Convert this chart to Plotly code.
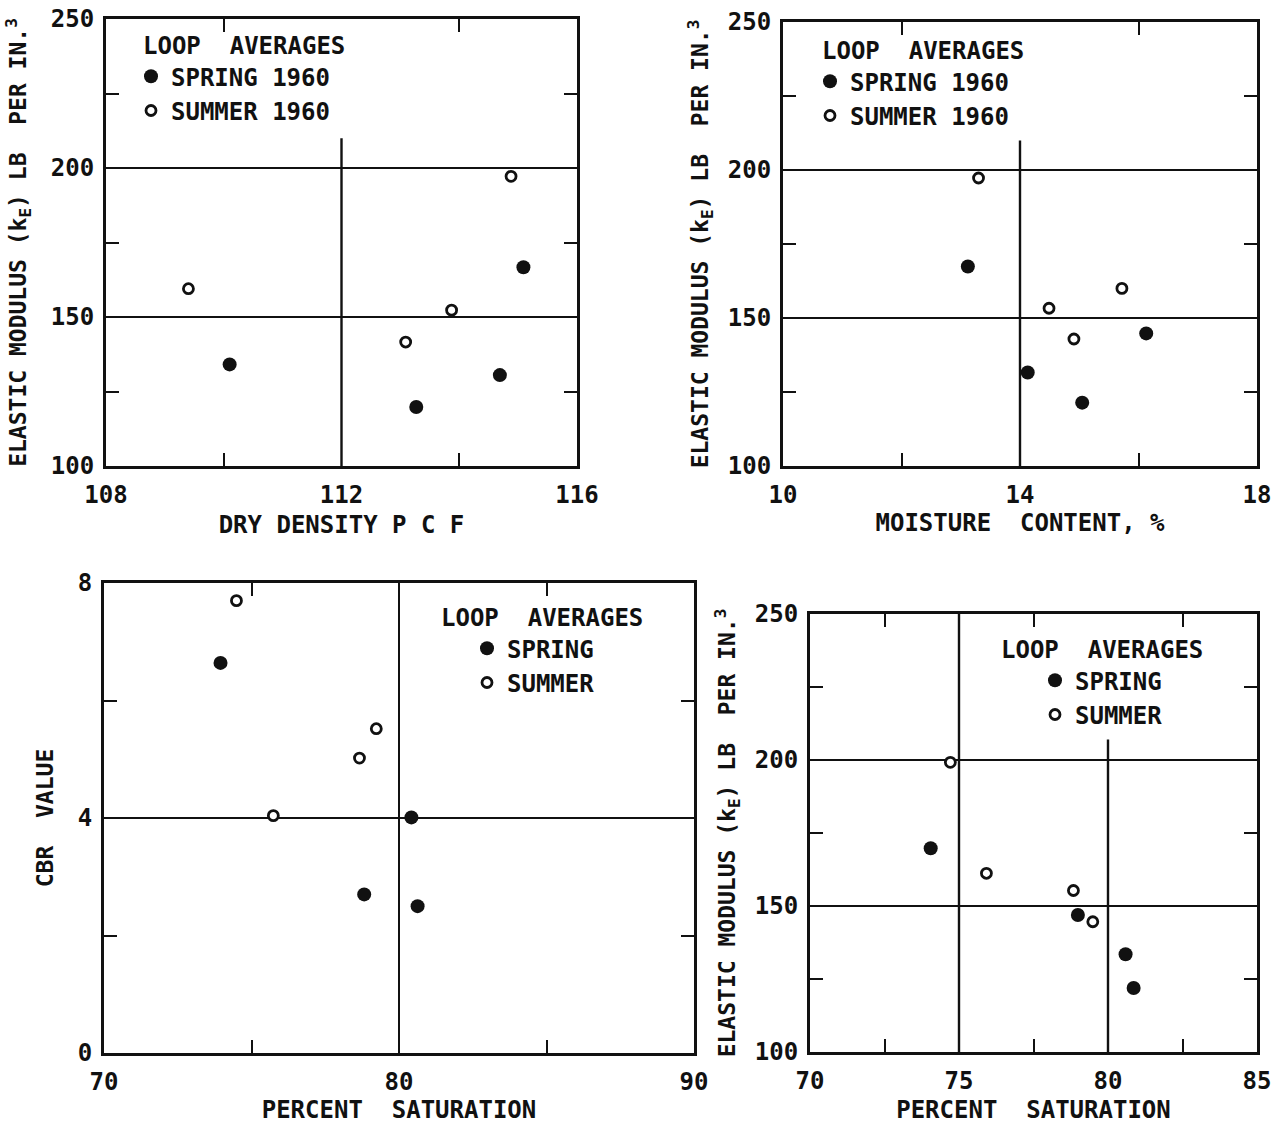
import plotly.graph_objects as go

FONT = "DejaVu Sans Mono"
INK = "#111111"
W, H = 1287, 1124

# ---------------- data ----------------
# Panel 1: elastic modulus vs dry density
dry_density_spring = [110.10, 113.27, 114.69, 115.09]
modulus_dd_spring = [134.1, 119.8, 130.5, 166.7]
dry_density_summer = [109.40, 113.09, 113.87, 114.88]
modulus_dd_summer = [159.5, 141.6, 152.3, 197.2]

# Panel 2: elastic modulus vs moisture content
moisture_spring = [13.12, 14.13, 15.05, 16.13]
modulus_mc_spring = [167.4, 131.6, 121.4, 144.8]
moisture_summer = [13.30, 14.49, 14.91, 15.72]
modulus_mc_summer = [197.3, 153.3, 142.9, 160.0]

# Panel 3: CBR vs percent saturation
saturation_cbr_spring = [73.95, 80.42, 78.82, 80.63]
cbr_spring = [6.64, 4.01, 2.70, 2.50]
saturation_cbr_summer = [74.49, 79.23, 78.66, 75.74]
cbr_summer = [7.70, 5.52, 5.02, 4.04]

# Panel 4: elastic modulus vs percent saturation
saturation_mod_spring = [74.05, 78.99, 80.59, 80.86]
modulus_sat_spring = [169.8, 146.9, 133.5, 121.9]
saturation_mod_summer = [74.71, 75.92, 78.84, 79.49]
modulus_sat_summer = [199.2, 161.2, 155.3, 144.6]

# tick labels
modulus_ticks = [100, 150, 200, 250]
modulus_minor = [125, 175, 225]
dd_ticks = [108, 112, 116]
dd_minor = [110, 114]
mc_ticks = [10, 14, 18]
mc_minor = [12, 16]
sat_cbr_ticks = [70, 80, 90]
sat_cbr_minor = [75, 85]
cbr_ticks = [0, 4, 8]
cbr_minor = [2, 6]
sat_mod_ticks = [70, 75, 80, 85]
sat_mod_minor = [72.5, 77.5, 82.5]

# reference dividers (value, start, end)
dd_divider = (112, 100, 210)
mc_divider = (14, 100, 210)
sat_divider_full = (75, 100, 250)
sat_divider_part = (80, 100, 207)

Y_TITLE = "ELASTIC MODULUS (k<sub>E</sub>) LB  PER IN.<sup>3</sup>"

# ---------------- figure ----------------
fig = go.Figure()

spring_marker = dict(symbol="circle", size=14, color=INK, line=dict(width=0))
summer_marker = dict(symbol="circle", size=10, color="white", line=dict(width=2.8, color=INK))


def add_pair(xs_sp, ys_sp, xs_su, ys_su, xa, ya, legend, sp_name, su_name, tag):
    fig.add_trace(go.Scatter(x=xs_sp, y=ys_sp, mode="markers", marker=spring_marker,
                             name=sp_name, xaxis=xa, yaxis=ya, legend=legend,
                             legendgroup=tag + "a", hoverinfo="skip"))
    fig.add_trace(go.Scatter(x=xs_su, y=ys_su, mode="markers", marker=summer_marker,
                             name=su_name, xaxis=xa, yaxis=ya, legend=legend,
                             legendgroup=tag + "b", hoverinfo="skip"))


add_pair(dry_density_spring, modulus_dd_spring, dry_density_summer, modulus_dd_summer,
         "x", "y", "legend", "SPRING 1960", "SUMMER 1960", "p1")
add_pair(moisture_spring, modulus_mc_spring, moisture_summer, modulus_mc_summer,
         "x2", "y2", "legend2", "SPRING 1960", "SUMMER 1960", "p2")
add_pair(saturation_cbr_spring, cbr_spring, saturation_cbr_summer, cbr_summer,
         "x3", "y3", "legend3", "SPRING", "SUMMER", "p3")
add_pair(saturation_mod_spring, modulus_sat_spring, saturation_mod_summer, modulus_sat_summer,
         "x4", "y4", "legend4", "SPRING", "SUMMER", "p4")


def fx(a, b):
    return [a / W, b / W]


def fy(top, bottom):
    return [1 - bottom / H, 1 - top / H]


def axis(domain, rng, tickvals, minor_vals, anchor, title, standoff, grid, is_x):
    return dict(
        domain=domain, range=rng, anchor=anchor, automargin=False,
        tickmode="array", tickvals=tickvals, ticks="",
        showline=True, linewidth=3, linecolor=INK, mirror="ticks",
        showgrid=grid, gridcolor=INK, gridwidth=2.4, zeroline=False,
        minor=dict(tickmode="array", tickvals=minor_vals, ticks="inside",
                   ticklen=13, tickwidth=2.4, tickcolor=INK, showgrid=False),
        tickfont=dict(family=FONT, size=24, color=INK, weight="bold"),
        ticklabelstandoff=5 if is_x else 4,
        title=dict(text=title, font=dict(family=FONT, size=24 if is_x else 23, color=INK, weight="bold"),
                   standoff=standoff),
        fixedrange=True,
    )


d1x, d1y = fx(106, 577), fy(19, 466)
d2x, d2y = fx(783, 1257), fy(22, 466)
d3x, d3y = fx(104, 694), fy(583, 1053)
d4x, d4y = fx(810, 1257), fy(614, 1052)

fig.update_layout(
    template="none",
    width=W, height=H,
    margin=dict(l=0, r=0, t=0, b=0, autoexpand=False),
    paper_bgcolor="white", plot_bgcolor="white",
    font=dict(family=FONT, color=INK),
    xaxis=axis(d1x, [108, 116], dd_ticks, dd_minor, "y", "DRY DENSITY P C F", 9, False, True),
    yaxis=axis(d1y, [100, 250], modulus_ticks, modulus_minor, "x", Y_TITLE, 18, True, False),
    xaxis2=axis(d2x, [10, 18], mc_ticks, mc_minor, "y2", "MOISTURE  CONTENT, %", 7, False, True),
    yaxis2=axis(d2y, [100, 250], modulus_ticks, modulus_minor, "x2", Y_TITLE, 13, True, False),
    xaxis3=axis(d3x, [70, 90], sat_cbr_ticks, sat_cbr_minor, "y3", "PERCENT  SATURATION", 16, True, True),
    yaxis3=axis(d3y, [0, 8], cbr_ticks, cbr_minor, "x3", "CBR  VALUE", 18, True, False),
    xaxis4=axis(d4x, [70, 85], sat_mod_ticks, sat_mod_minor, "y4", "PERCENT  SATURATION", 14, False, True),
    yaxis4=axis(d4y, [100, 250], modulus_ticks, modulus_minor, "x4", Y_TITLE, 13, True, False),
    showlegend=True,
)


def legend_cfg(left, top, indent):
    return dict(
        x=left / W, y=1 - top / H, xanchor="left", yanchor="top",
        bgcolor="rgba(0,0,0,0)", borderwidth=0,
        font=dict(family=FONT, size=24, color=INK, weight="bold"),
        title=dict(text="LOOP  AVERAGES", font=dict(family=FONT, size=24, color=INK, weight="bold")),
        indentation=indent, tracegroupgap=0, itemclick=False, itemdoubleclick=False,
    )


fig.update_layout(
    legend=legend_cfg(141, 23, -10),
    legend2=legend_cfg(820, 28, -10),
    legend3=legend_cfg(439, 595, 28),
    legend4=legend_cfg(999, 627, 36),
)


def divider(spec, xref, yref):
    v, a, b = spec
    return dict(type="line", xref=xref, yref=yref, x0=v, x1=v, y0=a, y1=b,
                line=dict(color=INK, width=2.4), layer="above")


fig.update_layout(shapes=[
    divider(dd_divider, "x", "y"),
    divider(mc_divider, "x2", "y2"),
    divider(sat_divider_full, "x4", "y4"),
    divider(sat_divider_part, "x4", "y4"),
])

fig.write_html("out.html")
